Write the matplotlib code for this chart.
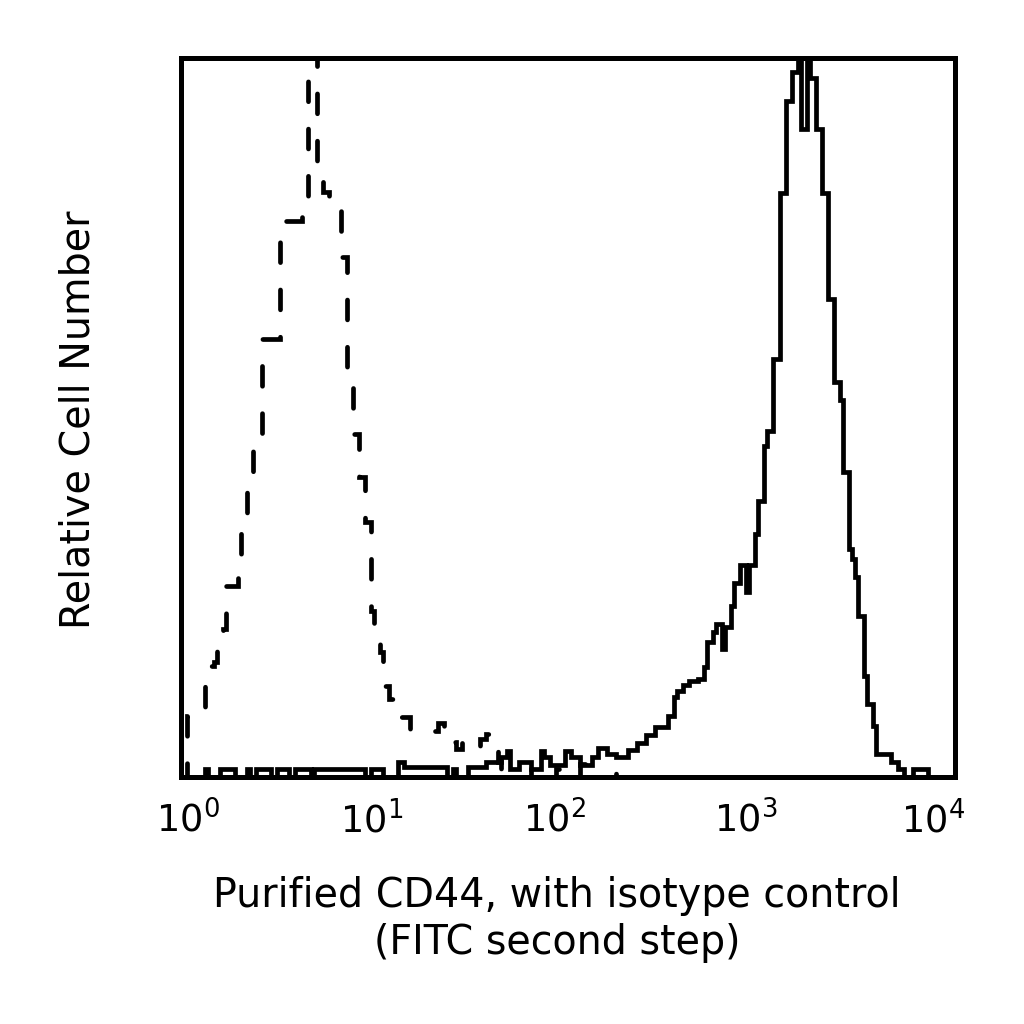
import numpy as np
import matplotlib
matplotlib.use("Agg")
import matplotlib.pyplot as plt
from matplotlib.ticker import NullLocator

# ---- data: relative cell counts per channel (256 log channels over 4 decades) ----
isotype = [
    0, 0, 61, 61, 61, 61, 61, 61, 95, 111, 111, 115, 133, 133, 148, 191,
    191, 191, 191, 223, 248, 248, 288, 288, 328, 335, 335, 438, 438, 438, 438, 438,
    438, 538, 538, 556, 556, 556, 556, 556, 580, 580, 780, 780, 780, 598, 598, 585,
    585, 571, 571, 566, 566, 520, 520, 403, 403, 343, 343, 300, 300, 255, 255, 166,
    138, 138, 125, 91, 91, 78, 78, 78, 78, 60, 60, 60, 46, 46, 46, 46,
    46, 46, 46, 46, 46, 54, 54, 35, 35, 35, 35, 28, 28, 36, 30, 30,
    30, 30, 30, 38, 38, 43, 43, 43, 43, 15, 8, 8, 8, 8, 8, 8,
    0, 0, 0, 0, 10, 10, 10, 10, 0, 0, 0, 0, 8, 8, 8, 0,
    0, 0, 0, 0, 13, 13, 13, 6, 0, 0, 0, 0, 0, 0, 0, 0,
    8, 8, 8, 8, 8, 0, 0, 0, 0, 0, 0, 0, 0, 0, 0, 0,
    0, 0, 0, 0, 0, 0, 0, 0, 0, 0, 0, 0, 0, 0, 0, 0,
    0, 0, 0, 0, 0, 0, 0, 0, 0, 0, 0, 0, 0, 0, 0, 0,
    0, 0, 0, 0, 0, 0, 0, 0, 0, 0, 0, 0, 0, 0, 0, 0,
    0, 0, 0, 0, 0, 0, 0, 0, 0, 0, 0, 0, 0, 0, 0, 0,
    0, 0, 0, 0, 0, 0, 0, 0, 0, 0, 0, 0, 0, 0, 0, 0,
    0, 0, 0, 0, 0, 0, 0, 0, 0, 0, 0, 0, 0, 0, 0, 0,
]

cd44 = [
    0, 0, 0, 0, 0, 0, 0, 0, 8, 0, 0, 0, 0, 8, 8, 8,
    8, 8, 0, 0, 0, 0, 8, 0, 0, 8, 8, 8, 8, 8, 0, 0,
    8, 8, 8, 8, 0, 0, 8, 8, 8, 8, 8, 0, 8, 8, 8, 8,
    8, 8, 8, 8, 8, 8, 8, 8, 8, 8, 8, 8, 8, 0, 0, 8,
    8, 8, 8, 0, 0, 0, 0, 0, 15, 15, 10, 10, 10, 10, 10, 10,
    10, 10, 10, 10, 10, 10, 10, 10, 0, 0, 8, 0, 0, 0, 0, 10,
    10, 10, 10, 10, 10, 15, 15, 15, 15, 15, 20, 20, 26, 8, 8, 8,
    15, 15, 15, 15, 8, 8, 8, 26, 20, 20, 12, 12, 12, 12, 12, 26,
    26, 20, 20, 20, 12, 12, 12, 12, 20, 20, 29, 29, 29, 23, 23, 23,
    20, 20, 20, 20, 27, 27, 27, 34, 34, 34, 42, 42, 42, 50, 50, 50,
    50, 61, 61, 80, 86, 86, 92, 92, 96, 96, 96, 98, 98, 110, 135, 135,
    145, 153, 153, 128, 150, 150, 171, 194, 194, 212, 212, 185, 212, 212, 243, 276,
    276, 331, 346, 346, 418, 418, 584, 584, 677, 677, 706, 706, 780, 648, 648, 780,
    700, 700, 648, 648, 584, 584, 478, 478, 395, 395, 377, 305, 305, 228, 218, 200,
    161, 161, 101, 73, 73, 51, 23, 23, 23, 23, 23, 15, 15, 8, 8, 0,
    0, 0, 8, 8, 8, 8, 8, 0, 0, 0, 0, 0, 0, 0, 0, 0,
]

decades = [0, 1, 2, 3, 4]
tick_labels = [r"$\mathdefault{10^{%d}}$" % d for d in decades]
label_shift_px = [7, -3, -13, -16, -22]
xlabel_text = "Purified CD44, with isotype control\n(FITC second step)"
ylabel_text = "Relative Cell Number"

# ---- figure ----
plt.rcParams["font.family"] = ["DejaVu Sans"]
plt.rcParams["mathtext.fontset"] = "dejavusans"

fig = plt.figure(figsize=(10.24, 10.24), dpi=100)
ax = fig.add_axes([0.1763, 0.2412, 0.7563, 0.7026])
ax.set_xscale("log")

n = len(cd44)
edges = 10 ** (np.arange(n + 1) / 64.0)

ax.stairs(cd44, edges, baseline=0, color="black", linewidth=3.4,
          linestyle="-", fill=False, zorder=2)
iso = ax.stairs(isotype, edges, baseline=0, color="black", linewidth=3.4,
                linestyle=(0, (4.2, 5.8)), fill=False, zorder=3)
iso.set_capstyle("round")

ax.set_xlim(1, 1e4)
ax.set_ylim(0, 720)
ax.set_yticks([])
ax.set_xticks([10.0 ** d for d in decades])
ax.xaxis.set_minor_locator(NullLocator())
ax.tick_params(axis="x", length=0, labelbottom=False)

for sp in ax.spines.values():
    sp.set_linewidth(3.6)
    sp.set_color("black")
    sp.set_zorder(4)

for d, lab, dx in zip(decades, tick_labels, label_shift_px):
    ax.annotate(lab, xy=(10.0 ** d, 0), xycoords=("data", "axes fraction"),
                xytext=(dx * 0.72, -55 * 0.72), textcoords="offset points",
                ha="center", va="baseline", fontsize=26.5, color="black")

fig.text(557 / 1024, 1 - 876 / 1024, xlabel_text, ha="center", va="top",
         fontsize=28.5, linespacing=1.24, multialignment="center")
fig.text(79 / 1024, 1 - 420 / 1024, ylabel_text, rotation=90,
         ha="center", va="center", fontsize=28.5)

fig.savefig("out.png", dpi=100)
